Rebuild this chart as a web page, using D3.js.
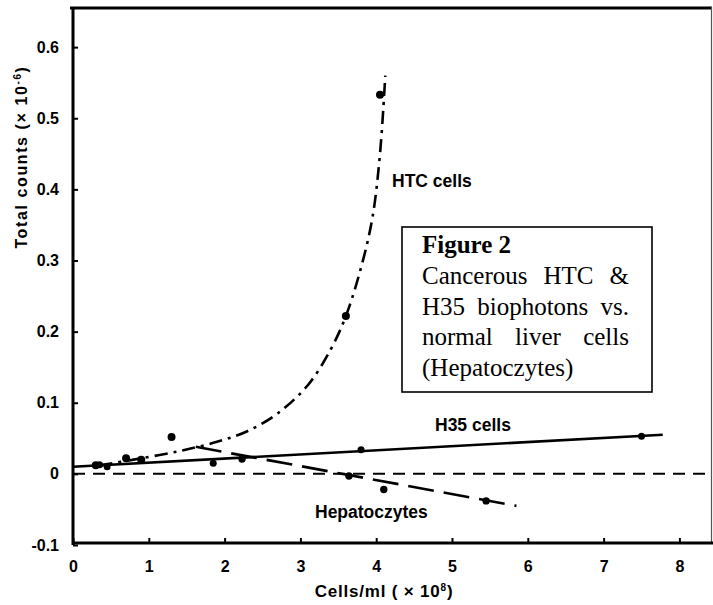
<!DOCTYPE html>
<html>
<head>
<meta charset="utf-8">
<script src="https://cdn.jsdelivr.net/npm/d3@7"></script>
<style>
html,body{margin:0;padding:0;background:#fff;}
svg{display:block;}
</style>
</head>
<body>
<svg id="chart" width="713" height="605"></svg>
<script>
// ---- data ----
const xTickValues = [0, 1, 2, 3, 4, 5, 6, 7, 8];
const xTickLabels = ["0", "1", "2", "3", "4", "5", "6", "7", "8"];
const yTickValues = [-0.1, 0, 0.1, 0.2, 0.3, 0.4, 0.5, 0.6];
const yTickLabels = ["-0.1", "0", "0.1", "0.2", "0.3", "0.4", "0.5", "0.6"];

// HTC cells: measured points and drawn (hand-fitted) curve
const htcPointsX = [0.3, 0.7, 0.9, 1.3, 3.6, 4.05];
const htcPointsY = [0.012, 0.022, 0.02, 0.052, 0.222, 0.533];
const htcCurveX = [0.35, 0.8, 1.4, 1.9, 2.3, 2.7, 3.1, 3.4, 3.6, 3.8, 3.95, 4.05, 4.12];
const htcCurveY = [0.012, 0.02, 0.032, 0.045, 0.06, 0.085, 0.125, 0.175, 0.222, 0.29, 0.36, 0.45, 0.56];

// H35 cells
const h35PointsX = [0.35, 0.45, 1.85, 3.8, 7.5];
const h35PointsY = [0.013, 0.01, 0.015, 0.034, 0.053];
const h35LineX = [0, 7.78];
const h35LineY = [0.01, 0.055];

// Hepatocytes
const hepPointsX = [2.23, 3.64, 4.1, 5.45];
const hepPointsY = [0.021, -0.003, -0.022, -0.038];
const hepLineX = [1.62, 5.85];
const hepLineY = [0.038, -0.045];

// background (zero) dashed line
const baseLineX = [0, 8.43];
const baseLineY = [0, 0];

const seriesLabels = ["HTC cells", "H35 cells", "Hepatoczytes"];
const xTitle = "Cells/ml ( × 10";
const xTitleSup = "8";
const yTitle = "Total counts (× 10";
const yTitleSup = "-6";
const boxTitle = "Figure 2";
const boxLines = ["Cancerous HTC &", "H35 biophotons vs.", "normal liver cells", "(Hepatoczytes)"];

// ---- drawing ----
const svg = d3.select("#chart");
const x = d3.scaleLinear().domain([0, 8.43]).range([73, 712]);
const y = d3.scaleLinear().domain([-0.1, 0.655]).range([545, 8]);

const zip = (xs, ys) => xs.map((v, i) => [v, ys[i]]);
const lineGen = d3.line().x(d => x(d[0])).y(d => y(d[1]));

// frame: top and right borders
svg.append("line").attr("x1", 70).attr("x2", 712).attr("y1", 8).attr("y2", 8)
  .attr("stroke", "#000").attr("stroke-width", 3);
svg.append("line").attr("x1", 711.5).attr("x2", 711.5).attr("y1", 7).attr("y2", 543)
  .attr("stroke", "#555").attr("stroke-width", 1.2);

// axes
const yAxis = d3.axisLeft(y).tickValues(yTickValues)
  .tickFormat((d, i) => yTickLabels[i]).tickSizeInner(-5).tickSizeOuter(0).tickPadding(14);
const xAxis = d3.axisBottom(x).tickValues(xTickValues)
  .tickFormat((d, i) => xTickLabels[i]).tickSizeInner(-5).tickSizeOuter(0).tickPadding(18);

const gy = svg.append("g").attr("transform", `translate(${x(0)},0)`).call(yAxis);
const gx = svg.append("g").attr("transform", `translate(0,${y(-0.1) - 2})`).call(xAxis);
[gx, gy].forEach(g => {
  g.select(".domain").attr("stroke", "#000").attr("stroke-width", 3);
  g.selectAll(".tick line").attr("stroke", "#000").attr("stroke-width", 2);
  g.selectAll(".tick text").attr("fill", "#000")
    .style("font-family", "'Liberation Sans', Arial, sans-serif")
    .style("font-weight", "bold").style("font-size", "16px");
});
gy.select(".domain").attr("d", `M0,${y(0.655)}V${y(-0.1)}`);
gx.select(".domain").attr("d", `M${x(0) - 1},0H713`);

// series lines
svg.append("path").datum(zip(baseLineX, baseLineY)).attr("d", lineGen)
  .attr("fill", "none").attr("stroke", "#000").attr("stroke-width", 2)
  .attr("stroke-dasharray", "12,8");

svg.append("path").datum(zip(h35LineX, h35LineY)).attr("d", lineGen)
  .attr("fill", "none").attr("stroke", "#000").attr("stroke-width", 2.6);

svg.append("path").datum(zip(hepLineX, hepLineY)).attr("d", lineGen)
  .attr("fill", "none").attr("stroke", "#000").attr("stroke-width", 2.6)
  .attr("stroke-dasharray", "26,10");

svg.append("path").datum(zip(htcCurveX, htcCurveY))
  .attr("d", d3.line().x(d => x(d[0])).y(d => y(d[1])).curve(d3.curveCatmullRom))
  .attr("fill", "none").attr("stroke", "#000").attr("stroke-width", 2.6)
  .attr("stroke-dasharray", "13,6,3,6");

// points
function dots(xs, ys, r) {
  svg.append("g").selectAll("circle").data(zip(xs, ys)).join("circle")
    .attr("cx", d => x(d[0])).attr("cy", d => y(d[1])).attr("r", r).attr("fill", "#000");
}
dots(htcPointsX, htcPointsY, 4);
dots(h35PointsX, h35PointsY, 3.5);
dots(hepPointsX, hepPointsY, 3.7);

// series labels
const lab = (t, px, py) => svg.append("text").attr("x", px).attr("y", py).text(t)
  .style("font-family", "'Liberation Sans', Arial, sans-serif")
  .style("font-weight", "bold").style("font-size", "17.5px").attr("fill", "#000");
lab(seriesLabels[0], 392, 187);
lab(seriesLabels[1], 435, 431);
lab(seriesLabels[2], 315, 518);

// axis titles
const xt = svg.append("text").attr("x", 384).attr("y", 597).attr("text-anchor", "middle")
  .style("font-family", "'Liberation Sans', Arial, sans-serif")
  .style("font-weight", "bold").style("font-size", "17px").style("letter-spacing", "0.8px")
  .attr("fill", "#000");
xt.append("tspan").text(xTitle);
xt.append("tspan").attr("dy", -6).style("font-size", "10px").text(xTitleSup);
xt.append("tspan").attr("dy", 6).text(")");

const yt = svg.append("text").attr("transform", "translate(27,157) rotate(-90)")
  .attr("text-anchor", "middle")
  .style("font-family", "'Liberation Sans', Arial, sans-serif")
  .style("font-weight", "bold").style("font-size", "16px").style("letter-spacing", "1.6px")
  .attr("fill", "#000");
yt.append("tspan").text(yTitle);
yt.append("tspan").attr("dy", -6).style("font-size", "10px").text(yTitleSup);
yt.append("tspan").attr("dy", 6).text(")");

// caption box
svg.append("rect").attr("x", 402).attr("y", 227).attr("width", 250).attr("height", 165)
  .attr("fill", "#fff").attr("stroke", "#000").attr("stroke-width", 1.6);
const serif = "'Liberation Serif', 'Times New Roman', serif";
svg.append("text").attr("x", 422).attr("y", 253).text(boxTitle)
  .style("font-family", serif).style("font-weight", "bold").style("font-size", "25px").attr("fill", "#000");
const left = 422, right = 629;
boxLines.forEach((ln, i) => {
  const by = 284 + i * 30.7;
  const justify = i < boxLines.length - 1;
  const words = ln.split(" ");
  if (!justify) {
    svg.append("text").attr("x", left).attr("y", by).text(ln)
      .style("font-family", serif).style("font-size", "25px").attr("fill", "#000");
    return;
  }
  const nodes = words.map(w => svg.append("text").attr("y", by).text(w)
    .style("font-family", serif).style("font-size", "25px").attr("fill", "#000"));
  const widths = nodes.map(n => n.node().getComputedTextLength());
  const gap = (right - left - d3.sum(widths)) / (words.length - 1);
  let cx = left;
  nodes.forEach((n, k) => { n.attr("x", cx); cx += widths[k] + gap; });
});
</script>
</body>
</html>
